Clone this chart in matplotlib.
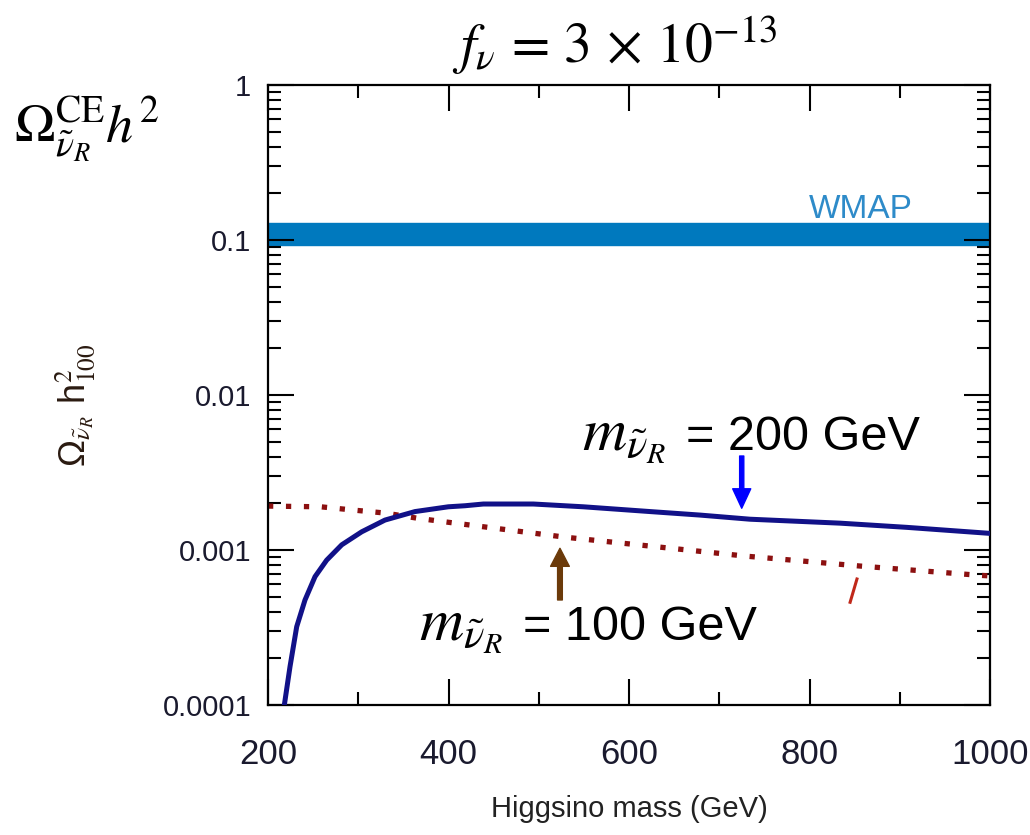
import matplotlib
matplotlib.use("Agg")
import matplotlib.pyplot as plt

plt.rcParams['mathtext.fontset'] = 'stix'
plt.rcParams['font.family'] = ['Liberation Sans', 'DejaVu Sans']

# Data
mass_200 = [218.1, 224.4, 231.8, 241, 252.1, 265, 281.7, 303.8, 329.6, 362.9, 399.8, 418.3, 438.6,
            494, 549.4, 623.3, 678.7, 734, 833.8, 907.7, 1000]
omega_200 = [1.0e-4, 1.77e-4, 3.2e-4, 4.76e-4, 6.73e-4, 8.6e-4, 1.08e-3, 1.31e-3, 1.56e-3, 1.77e-3,
             1.90e-3, 1.93e-3, 1.98e-3, 1.98e-3, 1.90e-3, 1.77e-3, 1.68e-3, 1.58e-3, 1.49e-3, 1.40e-3, 1.28e-3]
mass_100 = [200, 258.4, 294.5, 330.4, 366.5, 403.5, 529.1, 728.5, 856, 983.4, 1000]
omega_100 = [1.92e-3, 1.90e-3, 1.81e-3, 1.73e-3, 1.60e-3, 1.50e-3, 1.21e-3, 9.14e-4, 7.88e-4, 6.9e-4, 6.8e-4]
wmap_low, wmap_high = 0.093, 0.129
xticks = [200, 400, 600, 800, 1000]
xminor = [300, 500, 700, 900]
yticks = [1e-4, 1e-3, 1e-2, 1e-1, 1]
ytick_labels = ['0.0001', '0.001', '0.01', '0.1', '1']

fig = plt.figure(figsize=(10.3, 8.35), dpi=100)
ax = fig.add_axes([268/1030, 1-705/835, 722/1030, 620/835])
ax.set_yscale('log')
ax.set_xlim(200, 1000)
ax.set_ylim(1e-4, 1)

ax.axhspan(wmap_low, wmap_high, color='#0079be', zorder=1)
ax.text(857, 0.158, 'WMAP', color='#2e8bc9', fontsize=24, ha='center', va='center')

ax.plot(mass_200, omega_200, color='#111188', lw=3.6, zorder=3, solid_joinstyle='round')
ax.plot(mass_100, omega_100, color='#8c1010', lw=3.8, linestyle=(0, (1, 2.4)), zorder=2)

# small stray mark
ax.plot([845, 852.6], [4.6e-4, 6.5e-4], color='#c0281a', lw=2.2)

ax.annotate('', xy=(724.9, 1.86e-3), xytext=(724.9, 4.04e-3),
            arrowprops=dict(width=3.0, headwidth=13, headlength=14, color='#0000ff', shrink=0))
ax.annotate('', xy=(523.5, 1.026e-3), xytext=(523.5, 4.76e-4),
            arrowprops=dict(width=3.4, headwidth=13.5, headlength=13, color='#6b3a0a', shrink=0))

fig.text(582/1030, 1-450/835, r'$m_{\tilde{\nu}_R}$', fontsize=44, ha='left', va='baseline')
fig.text(686/1030, 1-450/835, '= 200 GeV', fontsize=35, ha='left', va='baseline')
fig.text(419/1030, 1-640/835, r'$m_{\tilde{\nu}_R}$', fontsize=44, ha='left', va='baseline')
fig.text(523/1030, 1-640/835, '= 100 GeV', fontsize=35, ha='left', va='baseline')

ax.set_xticks(xticks)
ax.set_xticks(xminor, minor=True)
ax.set_yticks(yticks)
ax.set_yticklabels(ytick_labels)
ax.tick_params(which='both', direction='in', top=True, right=True, width=1.5)
ax.tick_params(which='major', length=18.5)
ax.tick_params(which='minor', length=9.4)
ax.tick_params(axis='x', which='major', labelsize=25, pad=24)
ax.tick_params(axis='y', which='major', labelsize=21, pad=12)
for lbl in ax.get_yticklabels() + ax.get_xticklabels():
    lbl.set_color('#1a1a2e')
for s in ax.spines.values():
    s.set_linewidth(1.6)

fig.text(629/1030, 1-809/835, 'Higgsino mass (GeV)', fontsize=21, ha='center', va='center', color='#222222')
fig.text(75/1030, 1-405/835, 'Ω$_{\\tilde{\\nu}_R}$ h$^2_{100}$', fontsize=26, rotation=90,
         ha='center', va='center', color='#2a1a10')
fig.text(14/1030, 1-143/835, r'$\Omega^{\mathrm{CE}}_{\tilde{\nu}_R}h^2$', fontsize=39, ha='left', va='baseline')
fig.text(615/1030, 1-63/835, r'$f_\nu\,=\,3\,\times\,10^{-13}$', fontsize=40, ha='center', va='baseline')

fig.savefig('out.png', dpi=100)
